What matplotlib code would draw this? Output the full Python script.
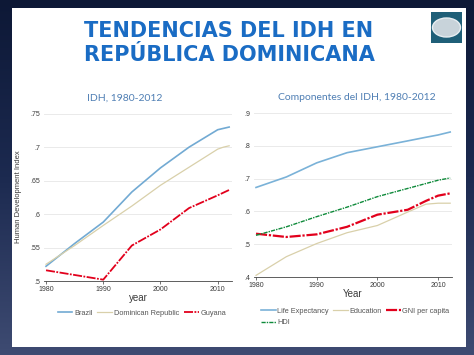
import numpy as np
import matplotlib
matplotlib.use("Agg")
import matplotlib.pyplot as plt
from matplotlib.patches import Rectangle, Ellipse

# --- datos ---
years_l = [1980, 1985, 1990, 1995, 2000, 2005, 2010, 2011, 2012]
brazil = [0.522, 0.556, 0.588, 0.633, 0.669, 0.700, 0.726, 0.728, 0.730]
dominican = [0.525, 0.553, 0.583, 0.612, 0.643, 0.670, 0.697, 0.700, 0.702]
guyana = [0.516, 0.509, 0.502, 0.553, 0.577, 0.609, 0.628, 0.632, 0.636]

years_r = [1980, 1985, 1990, 1995, 2000, 2005, 2008, 2010, 2012]
life_exp = [0.673, 0.705, 0.748, 0.779, 0.797, 0.815, 0.826, 0.833, 0.842]
education = [0.405, 0.462, 0.502, 0.535, 0.557, 0.598, 0.622, 0.625, 0.625]
gni = [0.532, 0.522, 0.530, 0.553, 0.590, 0.605, 0.632, 0.648, 0.655]
hdi = [0.527, 0.553, 0.584, 0.613, 0.645, 0.670, 0.685, 0.695, 0.702]

yticks_l = [0.5, 0.55, 0.6, 0.65, 0.7, 0.75]
ylabels_l = [".5", ".55", ".6", ".65", ".7", ".75"]
yticks_r = [0.4, 0.5, 0.6, 0.7, 0.8, 0.9]
ylabels_r = [".4", ".5", ".6", ".7", ".8", ".9"]
xticks = [1980, 1990, 2000, 2010]

W, H = 474, 355
fig = plt.figure(figsize=(W / 100, H / 100), dpi=100)

# fondo degradado azul oscuro
bg = fig.add_axes([0, 0, 1, 1], zorder=-10)
grad = np.linspace(0, 1, 256).reshape(-1, 1)
cmap = matplotlib.colors.LinearSegmentedColormap.from_list(
    "bg", ["#0d1836", "#1c2a50", "#3e4b72"])
bg.imshow(grad, aspect="auto", cmap=cmap, extent=[0, 1, 0, 1], origin="upper")
bg.add_patch(Rectangle((12 / W, 1 - 347 / H), 454 / W, 339 / H,
                       transform=bg.transAxes, facecolor="white",
                       edgecolor="none"))
# logo
bg.add_patch(Rectangle((431 / W, 1 - 43 / H), 31 / W, 31 / H,
                       transform=bg.transAxes, facecolor="#1f5f78",
                       edgecolor="none"))
bg.add_patch(Ellipse((446.5 / W, 1 - 27.5 / H), 28 / W, 19 / H,
                     transform=bg.transAxes, facecolor="#c8d3da",
                     edgecolor="#e8eef2", lw=1))
bg.set_xlim(0, 1)
bg.set_ylim(0, 1)
bg.axis("off")

fig.text(229 / W, 1 - 43 / H, "TENDENCIAS DEL IDH EN\nREPÚBLICA DOMINICANA",
         ha="center", va="center", fontsize=15, fontweight="bold",
         color="#1a6cc4", family="DejaVu Sans", linespacing=1.2)

sub_color = "#4f7fb4"
fig.text(125 / W, 1 - 98 / H, "IDH, 1980-2012", ha="center", va="center",
         fontsize=7.5, color=sub_color, family="Lato")
fig.text(357 / W, 1 - 98 / H, "Componentes del IDH, 1980-2012", ha="center",
         va="center", fontsize=7.5, color=sub_color, family="Lato")

txt = "#3a3a3a"


def style(ax, yt, yl):
    ax.set_yticks(yt)
    ax.set_yticklabels(yl)
    ax.set_xticks(xticks)
    ax.grid(axis="y", color="#e6e6e6", lw=0.6)
    ax.set_axisbelow(True)
    for s in ["left", "right", "top"]:
        ax.spines[s].set_visible(False)
    ax.spines["bottom"].set_color("#444444")
    ax.spines["bottom"].set_linewidth(0.6)
    ax.tick_params(axis="y", length=0, labelsize=5, colors=txt, pad=3)
    ax.tick_params(axis="x", length=2, width=0.5, labelsize=5,
                   colors=txt, pad=1.5)
    for t in ax.get_xticklabels() + ax.get_yticklabels():
        t.set_family("Liberation Sans")


leg_font = {"family": "Liberation Sans", "size": 5.3}

# --- gráfico izquierdo ---
ax1 = fig.add_axes([44.3 / W, (H - 281) / H, (232 - 44.3) / W, 168 / H])
ax1.plot(years_l, brazil, color="#72aad3", lw=1.2, label="Brazil")
ax1.plot(years_l, dominican, color="#d9d0aa", lw=0.9,
         label="Dominican Republic")
ax1.plot(years_l, guyana, color="#e2001c", lw=1.3, ls=(0, (5, 0.8, 1, 0.8)),
         label="Guyana")
ax1.set_xlim(1979.7, 2012.5)
ax1.set_ylim(0.5, 0.751)
style(ax1, yticks_l, ylabels_l)
ax1.set_xlabel("year", fontsize=7, family="Liberation Sans",
               color=txt, labelpad=0)
ax1.set_ylabel("Human Development Index", fontsize=5.5,
               family="Liberation Sans", color=txt, labelpad=6)
leg1 = ax1.legend(loc="upper center", bbox_to_anchor=(0.52, -0.13), ncol=3,
                  frameon=False, handlelength=2.0, handletextpad=0.2,
                  columnspacing=0.7, prop=leg_font)
for t in leg1.get_texts():
    t.set_color("#555555")

# --- gráfico derecho ---
ax2 = fig.add_axes([254.2 / W, (H - 277) / H, (452 - 254.2) / W, 164 / H])
l_life, = ax2.plot(years_r, life_exp, color="#7ab2d8", lw=1.2,
                   label="Life Expectancy")
l_edu, = ax2.plot(years_r, education, color="#d9d0aa", lw=0.9,
                  label="Education")
l_gni, = ax2.plot(years_r, gni, color="#e2001c", lw=1.6,
                  ls=(0, (5, 0.8, 1, 0.8)), label="GNI per capita")
l_hdi, = ax2.plot(years_r, hdi, color="#0e8a3a", lw=1.0,
                  ls=(0, (3, 0.8, 1, 0.8)), label="HDI")
ax2.set_xlim(1979.7, 2012.3)
ax2.set_ylim(0.4, 0.9)
style(ax2, yticks_r, ylabels_r)
ax2.set_xlabel("Year", fontsize=7, family="Liberation Sans",
               color=txt, labelpad=0)
handles = [l_life, l_hdi, l_edu, l_gni]
leg2 = ax2.legend(handles, [h.get_label() for h in handles],
                  loc="upper left", bbox_to_anchor=(0.0, -0.145), ncol=3,
                  frameon=False, handlelength=2.0, handletextpad=0.2,
                  columnspacing=0.6, labelspacing=0.6, prop=leg_font)
for t in leg2.get_texts():
    t.set_color("#555555")

fig.savefig("out.png", dpi=100)
